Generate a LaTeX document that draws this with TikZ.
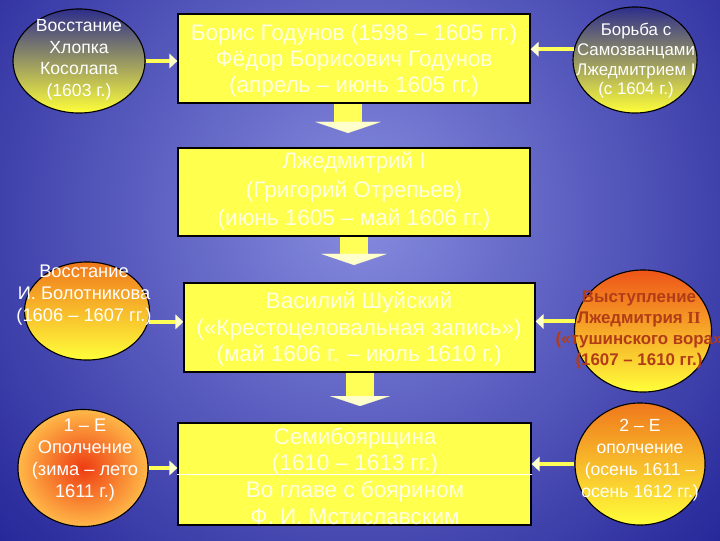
\documentclass[tikz,border=0pt]{standalone}
\usepackage{fontspec}
\setmainfont{Liberation Sans}
\newfontfamily\romanii{Liberation Serif}
\usepackage{tikz}
\usetikzlibrary{arrows.meta,shapes.geometric,calc}
\definecolor{bgouter}{HTML}{18188F}
\definecolor{bginner}{HTML}{878CDF}
\definecolor{boxyellow}{HTML}{FFFF4D}
\definecolor{boxtext}{HTML}{FFFFE2}
\definecolor{navytop}{HTML}{2E2E8C}
\definecolor{greymid}{HTML}{A9A57A}
\definecolor{sunyellow}{HTML}{FFFF3A}
\definecolor{orangetop}{HTML}{F0781C}
\definecolor{orangemid}{HTML}{FFB436}
\definecolor{redtop}{HTML}{EE5418}
\definecolor{redcore}{HTML}{EE3C12}
\definecolor{amberedge}{HTML}{FFB848}
\definecolor{brownred}{HTML}{B23C18}
\definecolor{shaftyellow}{HTML}{FFFF58}
\definecolor{headpale}{HTML}{FFFFCC}
\tikzset{every node/.append style={font=\rmfamily}}

\begin{document}
\begin{tikzpicture}[x=0.025cm,y=-0.025cm,
  period/.style={draw=black,line width=0.8pt,fill=boxyellow,inner sep=0pt,
    minimum width=8.8cm,minimum height=2.2cm},
  periodtext/.style={text=boxtext,align=center,inner sep=0pt,
    font=\fontsize{16}{19}\selectfont},
  oval/.style={ellipse,draw=black,line width=0.8pt,inner sep=0pt},
  ovaltext/.style={text=white,align=center,inner sep=0pt},
  feed/.style={shaftyellow,line width=0.1cm,
    -{Triangle[length=0.2cm,width=0.36cm,color=headpale]}},
  stepdown/.style={shaftyellow,line width=0.7cm,
    -{Triangle[length=0.28cm,width=1.65cm,line width=0.1pt,color=headpale]}}]
  \useasboundingbox (0,0) rectangle (720,540);
  \begin{scope}
    \clip (0,0) rectangle (720,540);
    \shade[inner color=bginner,outer color=bgouter] (360,215) circle (560);
  \end{scope}
  % reign boxes and the arrows between them
  \node[period,minimum height=2.225cm] (b1) at (354,58.5) {};
  \node[period] (b2) at (354,192) {};
  \node[period,minimum width=8.775cm,minimum height=2.225cm] (b3) at (359.5,327.5) {};
  \node[period,minimum width=8.825cm,minimum height=2.55cm] (b4) at (354.5,474) {};
  \coordinate (v1end) at (348,133);
  \coordinate (v2end) at (354,265);
  \coordinate (v3end) at (360,406);
  \draw[stepdown] (b1.south -| v1end) -- (v1end);
  \draw[stepdown] (b2.south -| v2end) -- (v2end);
  \draw[stepdown,-{Triangle[length=0.25cm,width=1.5cm,line width=0.1pt,color=headpale]}]
    (b3.south -| v3end) -- (v3end);
  \node[periodtext,font=\fontsize{16}{18.5}\selectfont] (t1) at (354,61)
    {Борис Годунов (1598 – 1605 гг.)\\Фёдор Борисович Годунов\\(апрель – июнь 1605 гг.)};
  \node[periodtext,font=\fontsize{16}{20}\selectfont] (t2) at (354,191)
    {Лжедмитрий I\\(Григорий Отрепьев)\\(июнь 1605 – май 1606 гг.)};
  \node[periodtext] (t3) at (359,329)
    {Василий Шуйский\\(«Крестоцеловальная запись»)\\(май 1606 г. – июль 1610 г.)};
  \node[periodtext] (t4) at (355,476)
    {Семибоярщина\\(1610 – 1613 гг.)\\Во главе с боярином\\Ф. И. Мстиславским};
  % side events
  \node[oval,minimum width=3.3cm,minimum height=2.6cm,
    top color=navytop,middle color=greymid,bottom color=sunyellow] (c1) at (79,61) {};
  \node[oval,minimum width=3.1cm,minimum height=2.65cm,
    top color=navytop,middle color=greymid,bottom color=sunyellow] (c2) at (635,60) {};
  \node[oval,minimum width=3.125cm,minimum height=2.45cm,
    top color=orangetop,middle color=orangemid,bottom color=sunyellow] (c3) at (87,311) {};
  \node[oval,minimum width=3.425cm,minimum height=3.05cm,
    top color=redtop,middle color=orangemid,bottom color=sunyellow] (c4) at (643,331) {};
  \node[oval,minimum width=3.25cm,minimum height=2.925cm,
    inner color=redcore,outer color=amberedge] (c5) at (83,468) {};
  \node[oval,minimum width=3.25cm,minimum height=3.05cm,shading angle=45,
    top color=orangetop,middle color=orangemid,bottom color=sunyellow] (c6) at (640,464) {};
  \node[ovaltext,font=\fontsize{12.5}{15.3}\selectfont] (e1) at (79,60)
    {Восстание\\Хлопка\\Косолапа\\(1603 г.)};
  \node[ovaltext,font=\fontsize{12}{14}\selectfont] (e2) at (636,61)
    {Борьба с\\Самозванцами\\Лжедмитрием I\\(с 1604 г.)};
  \node[ovaltext,font=\fontsize{13}{15.6}\selectfont] (e3) at (84,295)
    {Восстание\\И. Болотникова\\(1606 – 1607 гг.)};
  \node[ovaltext,text=brownred,font=\fontsize{12}{15}\selectfont\bfseries] (e4) at (639,330)
    {Выступление\\Лжедмитрия {\romanii II}\\(«тушинского вора»\\(1607 – 1610 гг.)};
  \node[ovaltext,font=\fontsize{13}{15.6}\selectfont] (e5) at (85,460)
    {1 – Е\\Ополчение\\(зима – лето\\1611 г.)};
  \node[ovaltext,font=\fontsize{12.5}{15.6}\selectfont] (e6) at (640,460)
    {2 – Е\\ополчение\\(осень 1611 –\\осень 1612 гг.)};
  \draw[feed] (c1.east) -- (c1.east -| b1.west);
  \draw[feed] (c2.170) -- (c2.170 -| b1.east);
  \draw[feed] (c3.-10) -- (c3.-10 -| b3.west);
  \draw[feed] (c4.172) -- (c4.172 -| b3.east);
  \draw[feed] (c5.east) -- (c5.east -| b4.west);
  \draw[feed] (c6.west) -- (c6.west -| b4.east);
  \draw[white,line width=0.5pt] (b4.west) -- (b4.east);
\end{tikzpicture}
\end{document}
